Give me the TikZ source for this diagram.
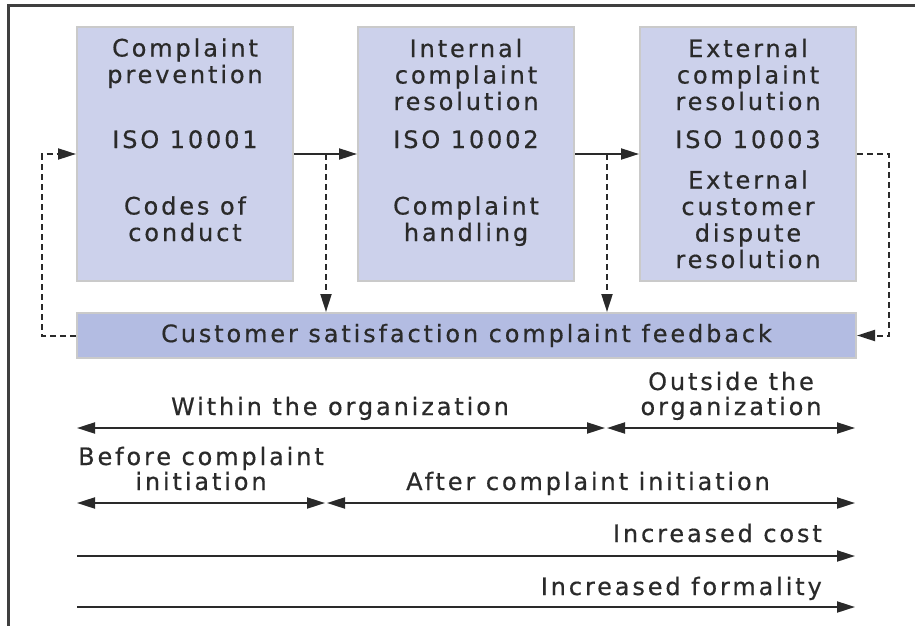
\documentclass[tikz,border=0pt]{standalone}
\usepackage{fontspec}
\setmainfont{DejaVu Sans}[LetterSpace=12,FakeBold=0.5]
\usetikzlibrary{arrows.meta}
\definecolor{boxfill}{HTML}{CCD1EB}
\definecolor{barfill}{HTML}{B3BCE2}
\definecolor{boxline}{HTML}{CACACA}
\definecolor{ink}{HTML}{2A2A2A}
\tikzset{
  box/.style={draw=boxline, line width=2pt, fill=boxfill, minimum width=216pt, minimum height=254pt, inner sep=0pt},
  barbox/.style={draw=boxline, line width=2pt, fill=barfill, minimum width=779pt, minimum height=45pt, inner sep=0pt, text=ink, font=\fontsize{24}{26.5}\selectfont},
  boxtxt/.style={anchor=base, align=center, inner sep=0pt, text=ink, font=\fontsize{24}{26.5}\selectfont},
  lowtxt/.style={anchor=base, align=center, inner sep=0pt, text=ink, font=\fontsize{24}{25}\selectfont},
  tip/.style={-{Triangle[length=18pt,width=11pt]}},
  bothtip/.style={{Triangle[length=18pt,width=11pt]}-{Triangle[length=18pt,width=11pt]}},
  conn/.style={draw=ink, line width=2pt},
  dashconn/.style={draw=ink, line width=2pt, dash pattern=on 6pt off 4pt},
}
\begin{document}
\begin{tikzpicture}[x=1pt,y=-1pt]
\useasboundingbox (0,0) rectangle (915,626);
\fill[white] (0,0) rectangle (915,626);
\draw[draw=ink!90, line width=3pt] (8,626) -- (8,6) -- (915,6);

\node[box] (b1) at (185,154) {};
\node[box] (b2) at (466,154) {};
\node[box] (b3) at (748,154) {};
\node[barbox] (bar) at (466.5,335.5) {Customer satisfaction complaint feedback};

% multi-line texts: base anchor = baseline of last line
\node[boxtxt] (t1a) at (185,83) {Complaint\\prevention};
\node[boxtxt] (t1b) at (185,148) {ISO 10001};
\node[boxtxt] (t1c) at (185,241) {Codes of\\conduct};
\node[boxtxt] (t2a) at (466,110) {Internal\\complaint\\resolution};
\node[boxtxt] (t2b) at (466,148) {ISO 10002};
\node[boxtxt] (t2c) at (466,241) {Complaint\\handling};
\node[boxtxt] (t3a) at (748,110) {External\\complaint\\resolution};
\node[boxtxt] (t3b) at (748,148) {ISO 10003};
\node[boxtxt] (t3c) at (748,268) {External\\customer\\dispute\\resolution};

% connectors between boxes
\draw[conn, tip] (b1.east) -- (b2.west);
\draw[conn, tip] (b2.east) -- (b3.west);
\coordinate (d1) at (326,154);
\coordinate (d2) at (607,154);
\draw[dashconn, tip] (d1) -- (d1 |- bar.north);
\draw[dashconn, tip] (d2) -- (d2 |- bar.north);
\coordinate (lx) at (42,335.5);
\coordinate (rx) at (889,154);
\draw[dashconn, tip] (bar.west) -- (lx) |- (b1.west);
\draw[dashconn, tip] (b3.east) -- (rx) |- (bar.east);

% scale arrows
\coordinate (r1a) at (77,428);
\coordinate (r1b) at (605,428);
\coordinate (r1c) at (607,428);
\coordinate (r1d) at (855,428);
\draw[conn, bothtip] (r1a) -- (r1b);
\draw[conn, bothtip] (r1c) -- (r1d);
\node[lowtxt] (w1) at (340,415) {Within the organization};
\node[lowtxt] (o1) at (731,415) {Outside the\\organization};

\coordinate (r2a) at (77,503);
\coordinate (r2b) at (325,503);
\coordinate (r2c) at (327,503);
\coordinate (r2d) at (855,503);
\draw[conn, bothtip] (r2a) -- (r2b);
\draw[conn, bothtip] (r2c) -- (r2d);
\node[lowtxt] (bf) at (201,490) {Before complaint\\initiation};
\node[lowtxt] (af) at (588,490) {After complaint initiation};

\coordinate (r3a) at (77,556);
\coordinate (r3b) at (855,556);
\draw[conn, tip] (r3a) -- (r3b);
\node[lowtxt, anchor=base east] (ic) at (822,542) {Increased cost};

\coordinate (r4a) at (77,607);
\coordinate (r4b) at (855,607);
\draw[conn, tip] (r4a) -- (r4b);
\node[lowtxt, anchor=base east] (if) at (822,595) {Increased formality};
\end{tikzpicture}
\end{document}
